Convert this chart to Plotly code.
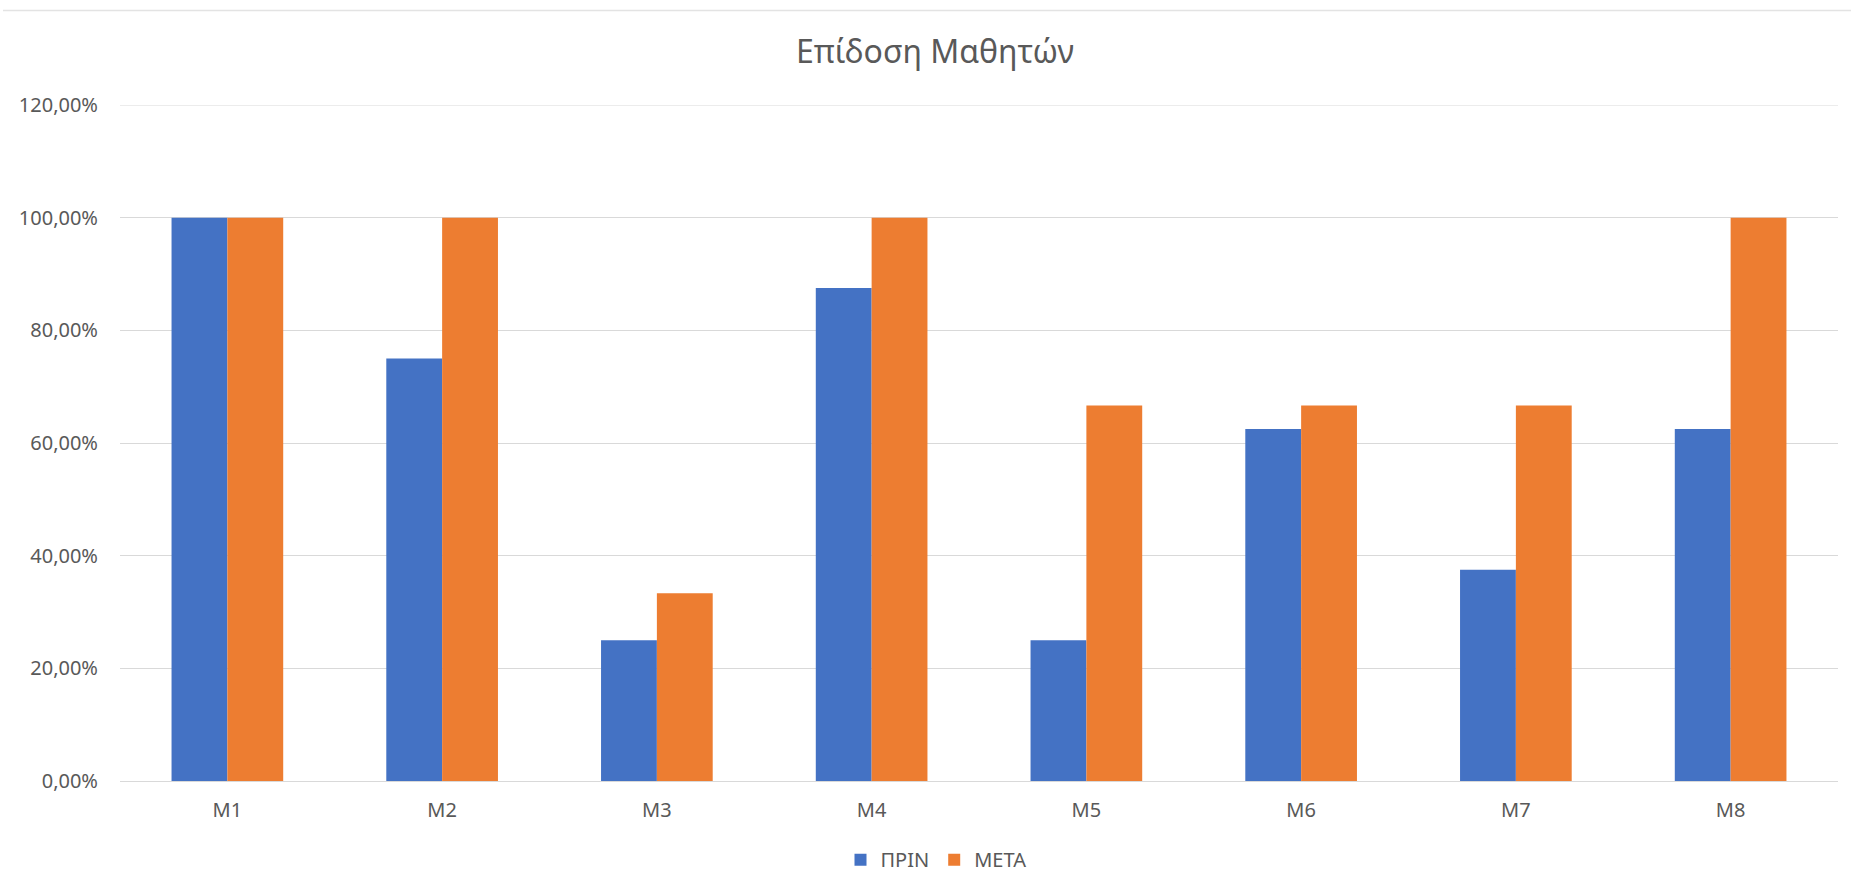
import plotly.graph_objects as go

# Student performance before and after, per student
students = ["M1", "M2", "M3", "M4", "M5", "M6", "M7", "M8"]
before = [1.00, 0.75, 0.25, 0.875, 0.25, 0.625, 0.375, 0.625]
after = [1.00, 1.00, 0.3333, 1.00, 0.6667, 0.6667, 0.6667, 1.00]
y_ticks = [0, 0.2, 0.4, 0.6, 0.8, 1.0, 1.2]

W, H = 1851, 891
ML, MR, MT, MB = 120, 13, 105, 107
FONT = "Noto Sans"
TXT = "#595959"
GRID = "#D9D9D9"

fig = go.Figure()
fig.add_trace(go.Bar(name="ΠΡΙΝ", x=students, y=before, marker_color="#4472C4",
                     marker_line_width=0))
fig.add_trace(go.Bar(name="ΜΕΤΑ", x=students, y=after, marker_color="#ED7D31",
                     marker_line_width=0))

pw = W - ML - MR
ph = H - MT - MB

fig.update_layout(
    width=W, height=H,
    margin=dict(l=ML, r=MR, t=MT, b=MB, pad=0),
    paper_bgcolor="white", plot_bgcolor="white",
    barmode="group", bargap=0.48, bargroupgap=0,
    separators=",.",
    font=dict(family=FONT, color=TXT, size=20),
    title=dict(text="Επίδοση Μαθητών", x=(935 - ML) / pw, xref="paper",
               xanchor="center", y=1 - 52 / H, yref="container", yanchor="middle",
               font=dict(family=FONT, size=32, color=TXT)),
    xaxis=dict(showgrid=False, showline=True, linecolor=GRID, linewidth=1,
               ticks="", tickfont=dict(size=20, color=TXT), ticklabelstandoff=11),
    yaxis=dict(range=[0, 1.2], tickvals=y_ticks, tickformat=".2%",
               showgrid=True, gridcolor=GRID, gridwidth=1,
               zeroline=True, zerolinecolor=GRID, zerolinewidth=1,
               showline=False, ticks="", ticklabelstandoff=21,
               tickfont=dict(size=20, color=TXT)),
    legend=dict(orientation="h", x=(936 - ML) / pw, xanchor="center",
                y=-(863 - (H - MB)) / ph, yanchor="middle",
                font=dict(size=20, color=TXT), itemwidth=30,
                traceorder="normal"),
    showlegend=True,
)

# gridline at the top of the value range
fig.add_shape(type="line", xref="paper", yref="y", x0=0, x1=1,
              y0=y_ticks[-1], y1=y_ticks[-1],
              line=dict(color=GRID, width=1), layer="below")

# thin frame line along the top of the chart
fig.add_shape(type="line", xref="paper", yref="paper",
              x0=(3 - ML) / pw, x1=(W - ML) / pw,
              y0=(H - MB - 10) / ph, y1=(H - MB - 10) / ph,
              line=dict(color="#E3E3E3", width=1.5))

fig.write_html("out.html")
